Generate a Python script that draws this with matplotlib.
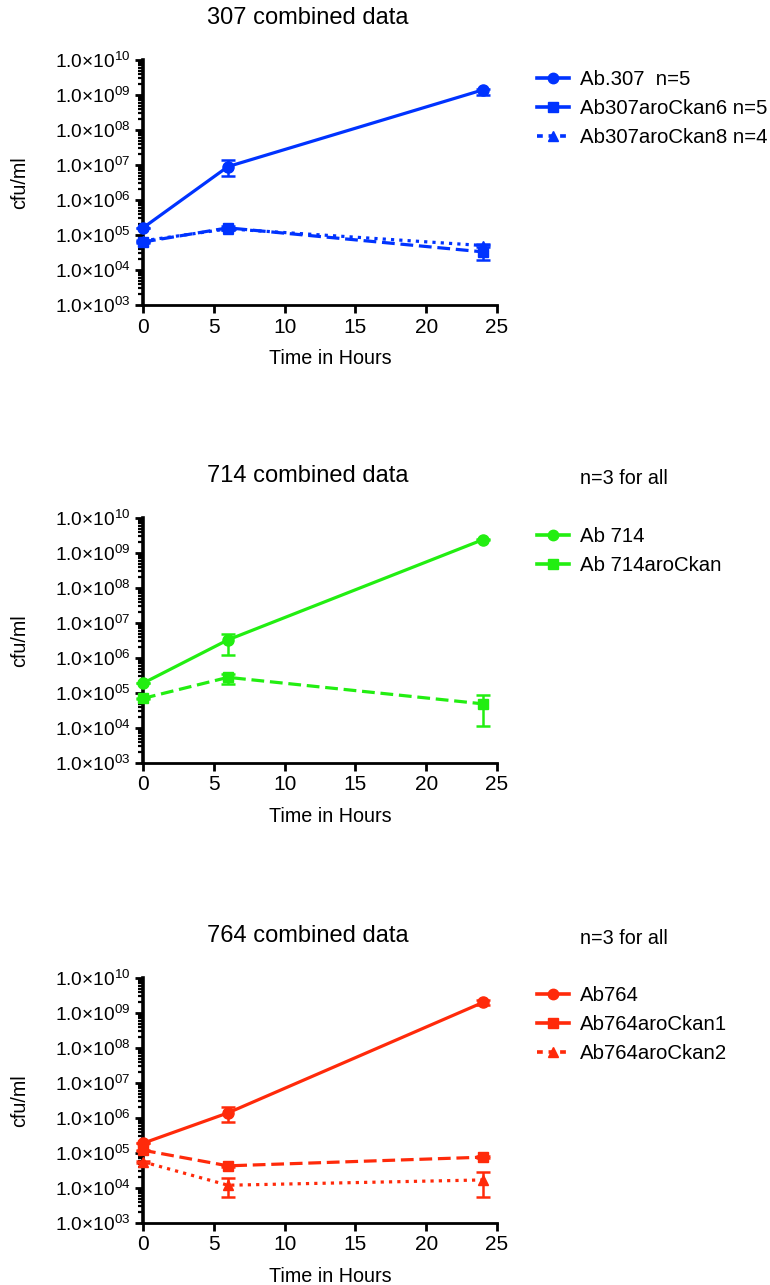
import matplotlib
matplotlib.use("Agg")
import matplotlib.pyplot as plt
from matplotlib.ticker import LogLocator, FuncFormatter, FixedLocator, NullFormatter
from matplotlib.lines import Line2D
import numpy as np

plt.rcParams['font.family'] = ['Liberation Sans', 'DejaVu Sans']
plt.rcParams['mathtext.fontset'] = 'custom'
plt.rcParams['mathtext.rm'] = 'Liberation Sans'
plt.rcParams['mathtext.it'] = 'Liberation Sans:italic'
plt.rcParams['mathtext.bf'] = 'Liberation Sans:bold'

# ---------------- data ----------------
time = [0, 6, 24]

titles = ["307 combined data", "714 combined data", "764 combined data"]
notes = [None, "n=3 for all", "n=3 for all"]

# panel 1 (307)
p1_labels = ["Ab.307  n=5", "Ab307aroCkan6 n=5", "Ab307aroCkan8 n=4"]
p1_mean = [[1.6e5, 9.0e6, 1.4e9], [6.3e4, 1.6e5, 3.3e4], [6.8e4, 1.5e5, 5.0e4]]
p1_low = [[1.6e5, 4.7e6, 1.0e9], [6.0e4, 1.4e5, 1.9e4], [6.5e4, 1.4e5, 4.4e4]]
p1_high = [[1.6e5, 1.35e7, 1.5e9], [6.6e4, 1.8e5, 5.1e4], [7.1e4, 1.6e5, 5.6e4]]

# panel 2 (714)
p2_labels = ["Ab 714", "Ab 714aroCkan"]
p2_mean = [[1.9e5, 3.3e6, 2.4e9], [7.0e4, 2.8e5, 4.9e4]]
p2_low = [[1.9e5, 1.25e6, 2.3e9], [6.7e4, 1.8e5, 1.15e4]]
p2_high = [[1.9e5, 5.0e6, 2.5e9], [7.3e4, 3.6e5, 8.7e4]]

# panel 3 (764)
p3_labels = ["Ab764", "Ab764aroCkan1", "Ab764aroCkan2"]
p3_mean = [[1.9e5, 1.4e6, 2.0e9], [1.2e5, 4.3e4, 7.6e4], [5.6e4, 1.2e4, 1.7e4]]
p3_low = [[1.9e5, 7.6e5, 1.7e9], [1.15e5, 4.0e4, 7.0e4], [5.3e4, 5.4e3, 5.4e3]]
p3_high = [[1.9e5, 2.1e6, 2.3e9], [1.25e5, 4.6e4, 8.2e4], [5.9e4, 1.9e4, 2.95e4]]

colors = ["#0033FF", "#22EE11", "#FF2A0A"]
markers = ["o", "s", "^"]
styles = ["-", (0, (4.0, 1.8)), (0, (1.0, 1.6))]
legend_styles = ["-", "-", (0, (1.6, 1.6))]

x_ticks = [0, 5, 10, 15, 20, 25]
y_exps = [3, 4, 5, 6, 7, 8, 9, 10]

# ---------------- figure ----------------
W, H = 770, 1285
fig = plt.figure(figsize=(W / 100, H / 100), dpi=100)

ax_left, ax_right = 143, 497
tops = [60, 518, 978]
bottoms = [305, 763, 1223]
legend_tops = [70, 527, 986]
panels = [
    (p1_labels, p1_mean, p1_low, p1_high),
    (p2_labels, p2_mean, p2_low, p2_high),
    (p3_labels, p3_mean, p3_low, p3_high),
]

fmt = FuncFormatter(lambda v, p: r'$1.0{\times}10^{%02d}$' % int(round(np.log10(v))))

for i, (labels, mean, low, high) in enumerate(panels):
    t, b = tops[i], bottoms[i]
    ax = fig.add_axes([ax_left / W, 1 - b / H, (ax_right - ax_left) / W, (b - t) / H])
    col = colors[i]
    handles = []
    for j, lab in enumerate(labels):
        m = np.array(mean[j])
        lo = m - np.array(low[j])
        hi = np.array(high[j]) - m
        ms = 8 if j == 0 else 7.5
        eb = ax.errorbar(time, m, yerr=[lo, hi], color=col, ls=styles[j], lw=2.3,
                         marker=markers[j], ms=ms, mec=col, mfc=col,
                         elinewidth=1.8, capsize=5, capthick=1.8,
                         clip_on=False, zorder=3)
        eb[0].set_clip_on(False)
        for c in eb[1]:
            c.set_clip_on(False)
        for c in eb[2]:
            c.set_clip_on(False)
        handles.append(Line2D([], [], color=col, ls=legend_styles[j], lw=2.6,
                              marker=markers[j], ms=ms - 0.5, mec=col, mfc=col))
    ax.set_yscale('log')
    ax.set_ylim(1e3, 1e10)
    ax.set_xlim(0, 25)
    ax.yaxis.set_major_locator(FixedLocator([10.0 ** e for e in y_exps]))
    ax.yaxis.set_major_formatter(fmt)
    ax.yaxis.set_minor_locator(LogLocator(base=10, subs=np.arange(2, 10), numticks=100))
    ax.yaxis.set_minor_formatter(NullFormatter())
    ax.set_xticks(x_ticks)
    ax.set_xticklabels([str(v) for v in x_ticks])
    for s in ['top', 'right']:
        ax.spines[s].set_visible(False)
    ax.spines['left'].set_linewidth(2.6)
    ax.spines['bottom'].set_linewidth(2.0)
    ax.tick_params(axis='y', which='major', direction='out', length=6, width=2.0,
                   labelsize=13.8, pad=3)
    ax.tick_params(axis='y', which='minor', direction='out', length=3.5, width=1.6)
    ax.tick_params(axis='x', which='major', direction='out', length=6, width=2.0,
                   labelsize=15, pad=3)
    ax.patch.set_alpha(0)

    # x label
    fig.text(330 / W, 1 - (b + 53) / H, "Time in Hours", ha='center', va='center', fontsize=14.2)
    # y label
    fig.text(20 / W, 1 - ((t + b) / 2) / H, "cfu/ml", ha='center', va='center',
             rotation=90, fontsize=14.2)
    # title
    fig.text(308 / W, 1 - (t - 42) / H, titles[i], ha='center', va='center', fontsize=17)
    if notes[i]:
        fig.text(580 / W, 1 - (t - 40) / H, notes[i], ha='left', va='center', fontsize=14.2)
    fig.legend(handles=handles, labels=labels, loc='upper left',
               bbox_to_anchor=(537 / W, 1 - legend_tops[i] / H),
               frameon=False, fontsize=14.7, handlelength=1.55, handletextpad=0.55,
               labelspacing=0.5, numpoints=1, borderpad=0, borderaxespad=0)

fig.savefig("out.png", dpi=100)
